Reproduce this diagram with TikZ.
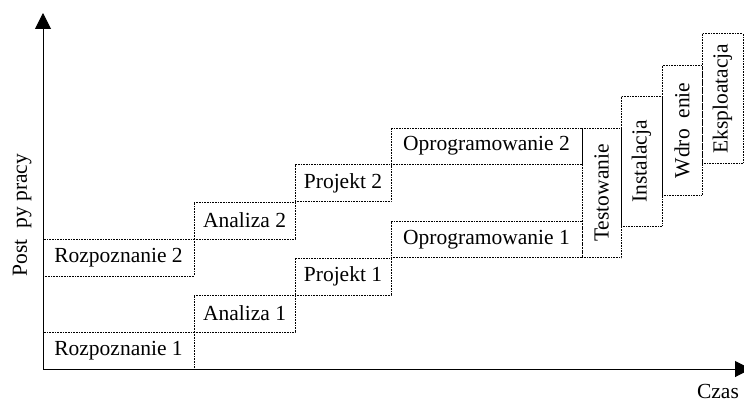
\documentclass[tikz,border=0pt]{standalone}
\usepackage{fontspec}
\setmainfont{Liberation Serif}
\usetikzlibrary{arrows.meta}
\begin{document}
\begin{tikzpicture}[x=1pt,y=-1pt,
  box/.style={draw, densely dotted, line width=0.6pt, inner sep=0pt,
    font=\fontsize{21.5}{25}\selectfont},
  hbox/.style={box, minimum height=37pt},
  vbox/.style={box, rotate=90, minimum width=129.4pt},
  axis/.style={line width=1pt, -{Triangle[length=16pt,width=16pt]}},
  lbl/.style={font=\fontsize{21.5}{25}\selectfont, inner sep=0pt}]
\useasboundingbox (0,0) rectangle (744,404);
% boxes
\node[hbox, minimum width=151pt] (r1) at (118.5,350.3) {Rozpoznanie 1};
\node[hbox, minimum width=151pt] (r2) at (118.5,257.3) {Rozpoznanie 2};
\node[hbox, minimum width=101pt] (a1) at (244.5,313.3) {Analiza 1};
\node[hbox, minimum width=101pt] (a2) at (244.5,220.3) {Analiza 2};
\node[hbox, minimum width=96pt] (p1) at (343,276.3) {Projekt 1};
\node[hbox, minimum width=96pt] (p2) at (343,183) {Projekt 2};
\node[hbox, minimum width=191pt, minimum height=36pt] (o1) at (486.5,239.7) {Oprogramowanie 1};
\node[hbox, minimum width=191pt, minimum height=36pt] (o2) at (486.5,146.2) {Oprogramowanie 2};
\node[vbox, minimum height=39pt] (t) at (601.5,193) {Testowanie};
\node[vbox, minimum height=41pt] (i) at (641.5,161.3) {Instalacja};
\node[vbox, minimum height=40pt] (w) at (682,130.3) {Wdro~~enie};
\node[vbox, minimum height=41pt] (e) at (722.5,98.5) {Eksploatacja};
% axes
\coordinate (o) at (43,369);
\coordinate (ytip) at (43,13);
\coordinate (xtip) at (751,369);
\draw[axis] (o) -- (ytip);
\draw[axis] (o) -- (xtip);
% labels
\node[lbl, rotate=90, anchor=base] (ylab) at (27,215) {Post~~py pracy};
\node[lbl, anchor=base] (xlab) at (718,398) {Czas};
\end{tikzpicture}
\end{document}
